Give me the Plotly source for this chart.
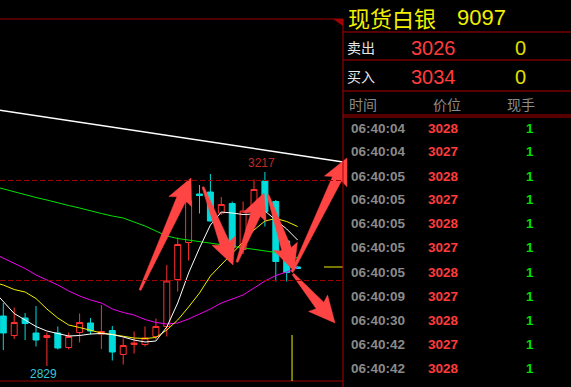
import plotly.graph_objects as go

W, H = 571, 387

# ---------------- data ----------------
idx = list(range(28))
opens = [2929, 2890, 2925, 2895, 2886, 2895, 2866, 2896, 2915, 2893,
         2900, 2852, 2872, 2872, 2888, 2908, 3002, 3076, 3173, 3177,
         3135, 3154, 3062, 3139, 3199, 3158, 3079, 3027]
highs = [2955, 2946, 2935, 2949, 2896, 2908, 2896, 2934, 2925, 2951,
         2909, 2884, 2898, 2908, 2924, 3031, 3086, 3163, 3191, 3213,
         3167, 3158, 3158, 3202, 3217, 3161, 3081, 3029]
lows = [2861, 2883, 2881, 2868, 2829, 2862, 2862, 2876, 2892, 2863,
        2840, 2832, 2854, 2868, 2882, 2888, 2978, 3040, 3134, 3118,
        3131, 3058, 3053, 3135, 3108, 2998, 2998, 3023]
closes = [2895, 2916, 2914, 2881, 2890, 2865, 2888, 2916, 2899, 2898,
          2857, 2870, 2875, 2885, 2908, 2999, 3072, 3159, 3170, 3119,
          3152, 3066, 3139, 3182, 3138, 3038, 3016, 3024]

ma_idx = list(range(-1, 28))
ma_white = [2982, 2957, 2934, 2921, 2908, 2899, 2894, 2889, 2890, 2893,
            2894, 2892, 2887, 2881, 2877, 2879, 2907, 2955, 3015, 3065,
            3111, 3137, 3135, 3132, 3133, 3139, 3121, 3103, 3081]
ma_yellow = [2997, 2991, 2982, 2977, 2964, 2943, 2925, 2911, 2906, 2901,
             2895, 2892, 2889, 2885, 2884, 2886, 2901, 2921, 2947, 2975,
             3009, 3031, 3055, 3077, 3101, 3119, 3124, 3118, 3108]
ma_magenta = [3055, 3045, 3035, 3024, 3011, 3001, 2991, 2979, 2969, 2961,
              2955, 2943, 2936, 2931, 2922, 2916, 2913, 2915, 2923, 2933,
              2943, 2955, 2963, 2971, 2985, 2999, 3010, 3017, 3026]
ma_green = [3189, 3183, 3177, 3172, 3166, 3161, 3155, 3150, 3145, 3139,
            3134, 3129, 3125, 3117, 3109, 3099, 3089, 3084, 3081, 3077,
            3074, 3071, 3068, 3065, 3062, 3059, 3056, 3053, 3045]

trend_x = [-1, 31.17]
trend_y = [3343, 3237]

ref_levels = [3000, 3200]
last_price = 3027

# hand-drawn arrows: (tail_x, tail_price, tip_x, tip_price)
arrows = [
    (12.54, 2981, 17.22, 3205),
    (18.32, 3187, 21.07, 3031),
    (21.44, 3037, 23.92, 3175),
    (24.28, 3171, 26.67, 3019),
    (26.49, 3017, 31.53, 3245),
    (26.58, 3013, 30.43, 2915),
]

title_name = "现货白银"
title_code = "9097"
sell_label, sell_price, sell_vol = "卖出", "3026", "0"
buy_label, buy_price, buy_vol = "买入", "3034", "0"
headers = ["时间", "价位", "现手"]
tick_times = ["06:40:04", "06:40:04", "06:40:05", "06:40:05", "06:40:05", "06:40:05",
              "06:40:05", "06:40:09", "06:40:30", "06:40:42", "06:40:42"]
tick_prices = [3028, 3027, 3028, 3027, 3028, 3027, 3028, 3027, 3028, 3027, 3028]
tick_vols = [1, 1, 1, 1, 1, 1, 1, 1, 1, 1, 1]

# ---------------- scales ----------------
BAR_PX = 10.9
FIRST_PX = 3.3
x_lo = -FIRST_PX / BAR_PX
x_hi = x_lo + W / BAR_PX
y_hi = 3561
y_lo = y_hi - 2 * H


def to_px(x, y):
    return ((x - x_lo) / (x_hi - x_lo) * W, (y_hi - y) / (y_hi - y_lo) * H)


def to_data(px, py):
    return (x_lo + px / W * (x_hi - x_lo), y_hi - py / H * (y_hi - y_lo))


RED = "#FF3030"
CYAN = "#00DCDC"
ARROW = "#FF4444"
FRAME = "#9A0000"
PANEL_X = 343

fig = go.Figure()

fig.add_trace(go.Candlestick(
    x=idx, open=opens, high=highs, low=lows, close=closes,
    increasing=dict(line=dict(color=RED, width=1), fillcolor="#000000"),
    decreasing=dict(line=dict(color=CYAN, width=1), fillcolor=CYAN),
    whiskerwidth=0, hoverinfo="none", showlegend=False))

for ys, col in [(ma_green, "#00E400"), (ma_magenta, "#F000F0"),
                (ma_yellow, "#F0F000"), (ma_white, "#FFFFFF")]:
    fig.add_trace(go.Scatter(x=ma_idx, y=ys, mode="lines",
                             line=dict(color=col, width=1),
                             hoverinfo="skip", showlegend=False))

fig.add_trace(go.Scatter(x=trend_x, y=trend_y, mode="lines",
                         line=dict(color="#FFFFFF", width=1.5),
                         hoverinfo="skip", showlegend=False))

# arrows as filled polygons computed in pixel space
HEAD_LEN, HEAD_HW, NECK_HW, TAIL_HW, BARB_BACK = 23, 12.5, 5, 1.0, 3
for tx, ty, hx, hy in arrows:
    ax, ay = to_px(tx, ty)
    bx, by = to_px(hx, hy)
    dx, dy = bx - ax, by - ay
    L = (dx * dx + dy * dy) ** 0.5
    ux, uy = dx / L, dy / L
    nx, ny = -uy, ux
    neck = (bx - ux * HEAD_LEN, by - uy * HEAD_LEN)
    barb = (bx - ux * (HEAD_LEN + BARB_BACK), by - uy * (HEAD_LEN + BARB_BACK))
    pts = [
        (ax + nx * TAIL_HW, ay + ny * TAIL_HW),
        (neck[0] + nx * NECK_HW, neck[1] + ny * NECK_HW),
        (barb[0] + nx * HEAD_HW, barb[1] + ny * HEAD_HW),
        (bx, by),
        (barb[0] - nx * HEAD_HW, barb[1] - ny * HEAD_HW),
        (neck[0] - nx * NECK_HW, neck[1] - ny * NECK_HW),
        (ax - nx * TAIL_HW, ay - ny * TAIL_HW),
    ]
    pts.append(pts[0])
    data_pts = [to_data(px, py) for px, py in pts]
    fig.add_trace(go.Scatter(x=[p[0] for p in data_pts], y=[p[1] for p in data_pts],
                             mode="lines", fill="toself", fillcolor=ARROW,
                             line=dict(color=ARROW, width=0.5),
                             hoverinfo="skip", showlegend=False))

shapes = []
px_panel = PANEL_X / W
# frame top / bottom
for lvl in (3523, 2799):
    shapes.append(dict(type="line", xref="paper", yref="y", x0=0, x1=px_panel,
                       y0=lvl, y1=lvl, line=dict(color=FRAME, width=1)))
for lvl in ref_levels:
    shapes.append(dict(type="line", xref="paper", yref="y", x0=0, x1=px_panel,
                       y0=lvl, y1=lvl, line=dict(color="#A00000", width=1, dash="5px,3px")))
# small triangle marker top right of chart
shapes.append(dict(type="path", xref="paper", yref="paper",
                   path="M {0},{1} L {2},{1} L {2},{3} Z".format(333 / W, 1 - 19 / H, 343 / W, 1 - 26 / H),
                   fillcolor="#A00000", line=dict(width=0)))
# current price marker
shapes.append(dict(type="line", xref="paper", yref="y", x0=324 / W, x1=px_panel,
                   y0=last_price, y1=last_price, line=dict(color="#F0F000", width=1)))
# yellow cursor line
shapes.append(dict(type="line", xref="x", yref="y", x0=26.49, x1=26.49,
                   y0=2891, y1=2799, line=dict(color="#F0F000", width=1)))
# panel divider and separators
shapes.append(dict(type="line", xref="paper", yref="paper", x0=px_panel, x1=px_panel,
                   y0=0, y1=1 - 19 / H, line=dict(color="#B00000", width=1)))
for py in (32, 60, 91, 115, 117):
    shapes.append(dict(type="line", xref="paper", yref="paper", x0=px_panel, x1=1,
                       y0=1 - py / H, y1=1 - py / H, line=dict(color="#B00000", width=1)))

ann = []


def txt(s, px, py, size, color, anchor="left", family="Liberation Sans", bold=False):
    ann.append(dict(text=("<b>%s</b>" % s) if bold else s, xref="paper", yref="paper",
                    x=px / W, y=1 - py / H, xanchor=anchor, yanchor="middle",
                    showarrow=False, font=dict(size=size, color=color, family=family)))


CJK = "Noto Sans CJK SC"
txt(title_name, 346, 17, 22, "#F0F000", family=CJK)
txt(title_code, 455, 18, 22, "#F0F000")
txt(sell_label, 345, 47, 14, "#E8E8E8", family=CJK)
txt(sell_price, 433.5, 48, 20, "#FF3C3C", anchor="center")
txt(sell_vol, 520, 48, 20, "#E0E000", anchor="center")
txt(buy_label, 345, 76, 14, "#E8E8E8", family=CJK)
txt(buy_price, 433.5, 77, 20, "#FF3C3C", anchor="center")
txt(buy_vol, 520, 77, 20, "#E0E000", anchor="center")
for h, hx in zip(headers, (347, 431, 505)):
    txt(h, hx, 103.5, 14, "#8C8C8C", family=CJK)
for k, (t, p, v) in enumerate(zip(tick_times, tick_prices, tick_vols)):
    py = 128 + 24 * k
    txt(t, 349, py, 13.5, "#8A8A8A", bold=True)
    txt(str(p), 443, py, 13.5, "#FF3B3B", anchor="center", bold=True)
    txt(str(v), 529.5, py, 13.5, "#00E000", anchor="center", bold=True)

# high / low labels from data
hi_i = highs.index(max(highs))
lo_i = lows.index(min(lows))
ann.append(dict(text=str(max(highs)), x=hi_i, y=max(highs), xref="x", yref="y",
                xshift=-3, yshift=9, showarrow=False, yanchor="middle",
                font=dict(size=12, color="#C02828", family="Liberation Sans")))
ann.append(dict(text=str(min(lows)), x=lo_i, y=min(lows), xref="x", yref="y",
                xshift=-3, yshift=-8, showarrow=False, yanchor="middle",
                font=dict(size=12, color="#38C8D8", family="Liberation Sans")))

fig.update_layout(
    width=W, height=H, margin=dict(l=0, r=0, t=0, b=0),
    paper_bgcolor="#000000", plot_bgcolor="#000000",
    xaxis=dict(range=[x_lo, x_hi], domain=[0, 1], visible=False,
               rangeslider=dict(visible=False), fixedrange=True),
    yaxis=dict(range=[y_lo, y_hi], domain=[0, 1], visible=False, fixedrange=True),
    boxgap=0.22,
    shapes=shapes, annotations=ann, showlegend=False,
)

fig.write_html("out.html", config={"displayModeBar": False},
               post_script="document.body.style.margin='0';document.body.style.background='#000';")
